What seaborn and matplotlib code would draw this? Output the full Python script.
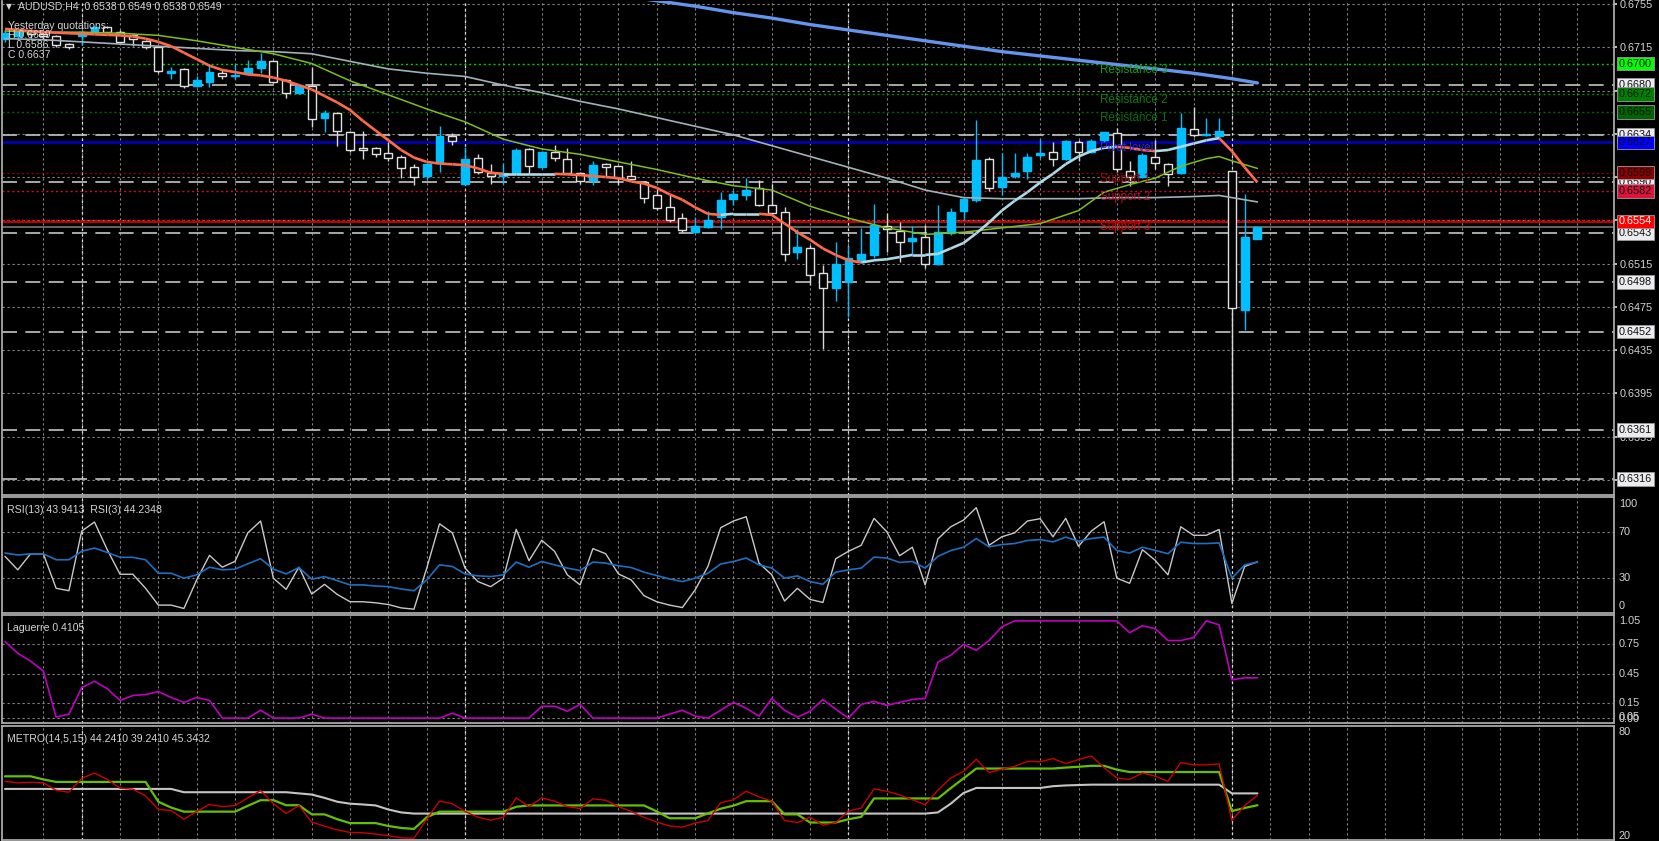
import numpy as np
import matplotlib
matplotlib.use("Agg")
import matplotlib.pyplot as plt
from matplotlib.collections import LineCollection
import seaborn as sns

# AUDUSD H4 bars, oldest first
opens = [0.6723, 0.6725, 0.6730, 0.6727, 0.6725, 0.6718, 0.6725, 0.6729, 0.6734, 0.6729,
         0.6726, 0.6721, 0.6715, 0.6691, 0.6695, 0.6679, 0.6683, 0.6691, 0.6688, 0.6690,
         0.6696, 0.6702, 0.6685, 0.6673, 0.6679, 0.6650, 0.6654, 0.6637, 0.6622, 0.6622,
         0.6617, 0.6614, 0.6604, 0.6596, 0.6608, 0.6633, 0.6589, 0.6613, 0.6599, 0.6596,
         0.6599, 0.6621, 0.6604, 0.6618, 0.6612, 0.6599, 0.6592, 0.6607, 0.6605, 0.6596,
         0.6590, 0.6578, 0.6567, 0.6557, 0.6544, 0.6549, 0.6558, 0.6575, 0.6578, 0.6585,
         0.6569, 0.6563, 0.6526, 0.6529, 0.6506, 0.6492, 0.6498, 0.6518, 0.6523, 0.6550,
         0.6545, 0.6536, 0.6540, 0.6515, 0.6543, 0.6564, 0.6574, 0.6612, 0.6586, 0.6596,
         0.6601, 0.6615, 0.6618, 0.6612, 0.6627, 0.6618, 0.6629, 0.6636, 0.6601, 0.6595,
         0.6614, 0.6607, 0.6599, 0.6639, 0.6634, 0.6633, 0.6601, 0.6472, 0.6538]
highs = [0.6731, 0.6731, 0.6732, 0.6729, 0.6726, 0.6719, 0.6731, 0.6735, 0.6735, 0.6731,
         0.6727, 0.6722, 0.6716, 0.6697, 0.6696, 0.6688, 0.6700, 0.6695, 0.6700, 0.6703,
         0.6710, 0.6703, 0.6686, 0.6681, 0.6697, 0.6657, 0.6655, 0.6638, 0.6638, 0.6623,
         0.6627, 0.6615, 0.6607, 0.6608, 0.6642, 0.6636, 0.6623, 0.6616, 0.6607, 0.6608,
         0.6622, 0.6622, 0.6619, 0.6625, 0.6622, 0.6600, 0.6610, 0.6608, 0.6606, 0.6610,
         0.6591, 0.6584, 0.6578, 0.6562, 0.6558, 0.6564, 0.6581, 0.6583, 0.6594, 0.6592,
         0.6589, 0.6567, 0.6547, 0.6532, 0.6514, 0.6535, 0.6531, 0.6548, 0.6570, 0.6562,
         0.6553, 0.6550, 0.6551, 0.6569, 0.6566, 0.6577, 0.6648, 0.6614, 0.6617, 0.6617,
         0.6617, 0.6630, 0.6627, 0.6629, 0.6629, 0.6630, 0.6637, 0.6640, 0.6610, 0.6617,
         0.6629, 0.6608, 0.6654, 0.6660, 0.6650, 0.6650, 0.6601, 0.6579, 0.6549]
lows = [0.6720, 0.6722, 0.6724, 0.6723, 0.6715, 0.6713, 0.6717, 0.6728, 0.6728, 0.6719,
        0.6716, 0.6713, 0.6691, 0.6686, 0.6677, 0.6678, 0.6678, 0.6686, 0.6686, 0.6689,
        0.6691, 0.6682, 0.6668, 0.6672, 0.6641, 0.6637, 0.6624, 0.6618, 0.6612, 0.6614,
        0.6610, 0.6594, 0.6588, 0.6592, 0.6600, 0.6625, 0.6588, 0.6598, 0.6589, 0.6589,
        0.6598, 0.6598, 0.6603, 0.6610, 0.6598, 0.6589, 0.6588, 0.6596, 0.6588, 0.6592,
        0.6571, 0.6565, 0.6553, 0.6544, 0.6543, 0.6548, 0.6547, 0.6569, 0.6574, 0.6568,
        0.6560, 0.6517, 0.6519, 0.6495, 0.6436, 0.6480, 0.6466, 0.6517, 0.6520, 0.6526,
        0.6516, 0.6523, 0.6511, 0.6514, 0.6541, 0.6556, 0.6572, 0.6582, 0.6578, 0.6594,
        0.6593, 0.6613, 0.6605, 0.6611, 0.6610, 0.6617, 0.6627, 0.6600, 0.6587, 0.6594,
        0.6602, 0.6587, 0.6598, 0.6632, 0.6633, 0.6631, 0.6314, 0.6454, 0.6538]
closes = [0.6728, 0.6729, 0.6727, 0.6725, 0.6717, 0.6715, 0.6729, 0.6734, 0.6729, 0.6720,
          0.6723, 0.6715, 0.6693, 0.6693, 0.6679, 0.6685, 0.6692, 0.6688, 0.6689, 0.6696,
          0.6702, 0.6683, 0.6673, 0.6679, 0.6649, 0.6654, 0.6638, 0.6620, 0.6620, 0.6616,
          0.6613, 0.6603, 0.6595, 0.6607, 0.6633, 0.6628, 0.6612, 0.6600, 0.6596, 0.6599,
          0.6620, 0.6605, 0.6618, 0.6613, 0.6599, 0.6591, 0.6606, 0.6604, 0.6594, 0.6593,
          0.6576, 0.6566, 0.6555, 0.6546, 0.6550, 0.6555, 0.6574, 0.6579, 0.6583, 0.6569,
          0.6562, 0.6524, 0.6530, 0.6504, 0.6492, 0.6515, 0.6520, 0.6524, 0.6551, 0.6547,
          0.6535, 0.6539, 0.6515, 0.6544, 0.6563, 0.6575, 0.6611, 0.6585, 0.6595, 0.6599,
          0.6614, 0.6617, 0.6612, 0.6628, 0.6618, 0.6628, 0.6637, 0.6602, 0.6595, 0.6615,
          0.6608, 0.6598, 0.6640, 0.6634, 0.6635, 0.6638, 0.6474, 0.6540, 0.6549]

# moving averages
fast_ma = [0.6732, 0.6731, 0.6730, 0.6729, 0.67285, 0.6728, 0.67275, 0.6727, 0.67265, 0.6726,
           0.6725, 0.6723, 0.6720, 0.6716, 0.6710, 0.6704, 0.6698, 0.6694, 0.6692, 0.6690,
           0.6689, 0.6687, 0.6684, 0.6680, 0.6676, 0.6670, 0.6664, 0.6657, 0.6647, 0.6638,
           0.6629, 0.6620, 0.6613, 0.6609, 0.66075, 0.66068, 0.6606, 0.6603, 0.6599, 0.6598,
           0.6598, 0.6598, 0.6598, 0.6598, 0.65975, 0.65968, 0.6596, 0.6595, 0.6594, 0.6591,
           0.6589, 0.6585, 0.6579, 0.6574, 0.6567, 0.6561, 0.6560, 0.6561, 0.6561, 0.6561,
           0.6560, 0.6552, 0.6544, 0.6537, 0.6529, 0.6523, 0.6518, 0.6516, 0.6518, 0.6519,
           0.6521, 0.6523, 0.6523, 0.6524, 0.6529, 0.6534, 0.6543, 0.6553, 0.6564, 0.6573,
           0.6581, 0.6590, 0.6598, 0.6607, 0.6614, 0.6619, 0.6622, 0.6623, 0.6622, 0.6620,
           0.6619, 0.6620, 0.6623, 0.6626, 0.6629, 0.6631, 0.6619, 0.6604, 0.6590]
mid_bars = [0, 3, 6, 9, 12, 15, 18, 21, 24, 27, 30, 33, 36, 39, 42, 45, 48, 51, 54, 57,
            60, 63, 66, 69, 72, 75, 78, 81, 84, 86, 88, 90, 92, 94, 95, 96, 98]
mid_ma = [0.6730, 0.6729, 0.6729, 0.6728, 0.6726, 0.6721, 0.6715, 0.6709, 0.6700, 0.6684,
          0.6671, 0.6658, 0.6646, 0.6630, 0.6621, 0.6616, 0.6609, 0.6602, 0.6594, 0.6587,
          0.6583, 0.6568, 0.6557, 0.6548, 0.6542, 0.6544, 0.6548, 0.6552, 0.6564, 0.6581,
          0.6588, 0.6594, 0.6605, 0.6612, 0.6614, 0.6610, 0.6603]
slow_bars = [0, 3, 6, 9, 12, 15, 18, 21, 24, 27, 30, 33, 36, 39, 42, 45, 48, 51, 54, 57,
             60, 63, 66, 69, 72, 75, 78, 81, 84, 87, 90, 93, 95, 96, 98]
slow_ma = [0.6723, 0.6722, 0.6720, 0.6718, 0.6716, 0.6714, 0.6712, 0.6711, 0.6709, 0.6702,
           0.6695, 0.6691, 0.6688, 0.6680, 0.6673, 0.6665, 0.6658, 0.6650, 0.6642, 0.6634,
           0.6624, 0.6614, 0.6604, 0.6594, 0.6583, 0.6576, 0.6575, 0.6575, 0.6575, 0.6576,
           0.6576, 0.6577, 0.6578, 0.6576, 0.6572]
long_bars = [45, 48, 51, 54, 57, 60, 63, 66, 69, 72, 75, 78, 81, 84, 87, 90, 93, 96, 98]
long_ma = [0.6769, 0.6763, 0.6758, 0.6753, 0.6747, 0.6742, 0.6736, 0.6731, 0.6726, 0.6721,
           0.6716, 0.6711, 0.6707, 0.6703, 0.6699, 0.6695, 0.6691, 0.6686, 0.6682]

# indicator windows
rsi13 = [51.7, 50.0, 51.0, 51.0, 45.9, 45.9, 53.2, 56.0, 52.2, 48.0,
         48.0, 45.9, 34.3, 34.3, 30.0, 32.9, 39.5, 37.2, 37.8, 42.4,
         46.8, 37.8, 33.7, 39.2, 29.1, 31.4, 27.9, 24.2, 24.2, 23.3,
         22.7, 20.7, 19.2, 28.5, 41.5, 40.1, 33.7, 32.0, 31.4, 32.9,
         43.9, 39.5, 44.4, 41.5, 38.7, 36.6, 43.9, 43.0, 40.7, 39.2,
         35.2, 32.3, 29.4, 27.1, 30.0, 34.3, 42.2, 44.4, 47.4, 41.5,
         38.7, 30.0, 32.0, 27.1, 24.8, 35.2, 37.2, 38.7, 48.2, 47.4,
         43.6, 44.4, 38.7, 48.8, 53.8, 56.7, 64.2, 57.0, 59.0, 59.9,
         62.5, 63.3, 61.3, 65.4, 61.9, 64.2, 65.4, 53.8, 51.7, 56.7,
         54.0, 51.1, 61.0, 59.9, 59.9, 60.4, 30.0, 41.5, 43.9]
rsi3 = [48.8, 37.2, 51.0, 51.0, 21.3, 19.2, 70.6, 78.4, 54.6, 33.4,
        33.4, 21.3, 6.8, 6.8, 3.9, 28.5, 49.7, 39.5, 44.5, 69.1,
        79.3, 30.0, 20.4, 39.5, 16.3, 24.7, 16.0, 9.7, 9.7, 8.8,
        7.3, 4.4, 3.3, 38.7, 76.9, 69.1, 38.7, 27.1, 22.7, 30.0,
        72.1, 45.1, 62.7, 53.2, 32.9, 24.2, 55.5, 51.1, 33.7, 28.5,
        14.9, 9.7, 6.8, 4.7, 19.9, 40.1, 73.5, 79.3, 83.0, 43.0,
        32.9, 10.3, 21.3, 11.7, 9.1, 46.8, 53.2, 58.4, 81.6, 70.0,
        49.4, 56.7, 24.2, 63.9, 74.3, 80.1, 90.8, 58.4, 65.7, 69.1,
        79.3, 81.3, 65.7, 81.6, 57.5, 70.6, 78.7, 30.0, 25.6, 54.6,
        45.4, 32.9, 74.3, 67.0, 67.0, 72.0, 8.2, 40.1, 44.2]
laguerre = [0.78, 0.66, 0.58, 0.48, 0.01, 0.04, 0.31, 0.375, 0.30, 0.18,
            0.23, 0.24, 0.27, 0.21, 0.16, 0.21, 0.18, 0.0, 0.0, 0.0,
            0.08, 0.0, 0.0, 0.0, 0.04, 0.0, 0.0, 0.0, 0.0, 0.0,
            0.0, 0.0, 0.0, 0.0, 0.0, 0.05, 0.0, 0.0, 0.0, 0.0,
            0.0, 0.0, 0.12, 0.12, 0.07, 0.14, 0.0, 0.0, 0.0, 0.0,
            0.0, 0.0, 0.04, 0.08, 0.02, 0.0, 0.08, 0.16, 0.10, 0.02,
            0.20, 0.08, 0.01, 0.07, 0.19, 0.09, 0.0, 0.14, 0.17, 0.13,
            0.16, 0.19, 0.20, 0.57, 0.64, 0.75, 0.69, 0.79, 0.93, 0.99,
            0.99, 0.99, 0.99, 0.99, 0.99, 0.99, 0.99, 0.99, 0.87, 0.94,
            0.91, 0.79, 0.79, 0.82, 0.99, 0.95, 0.39, 0.41, 0.41]
metro_fast = [51.5, 50.7, 51.0, 50.8, 46.9, 45.9, 53.0, 55.8, 52.5, 48.0,
              47.5, 44.0, 37.0, 36.5, 32.0, 36.0, 39.6, 38.5, 39.0, 43.0,
              46.8, 40.0, 35.0, 39.0, 30.5, 28.5, 26.5, 25.2, 25.0, 24.4,
              23.5, 22.4, 22.2, 32.0, 41.3, 40.0, 36.0, 33.0, 31.5, 33.0,
              43.0, 38.4, 43.0, 41.3, 38.5, 37.5, 42.5, 41.8, 38.5, 36.0,
              33.0, 30.5, 28.5, 27.9, 30.0, 31.3, 40.5, 42.0, 46.4, 43.5,
              41.3, 31.3, 30.3, 33.0, 28.9, 30.3, 36.2, 37.8, 47.6, 46.4,
              44.5, 42.0, 39.5, 47.0, 53.2, 56.6, 62.9, 56.0, 57.8, 59.2,
              61.8, 61.6, 63.2, 60.6, 62.7, 64.6, 58.5, 53.2, 52.5, 55.8,
              54.2, 51.5, 61.2, 60.0, 60.0, 60.5, 31.3, 39.1, 44.2]
metro_slow = [54.1, 54.1, 54.1, 52.5, 51.2, 51.2, 51.2, 51.2, 51.2, 51.2,
              51.2, 51.2, 41.0, 38.0, 35.9, 35.9, 35.9, 35.9, 35.9, 38.9,
              41.8, 41.8, 39.2, 39.2, 34.5, 34.5, 32.0, 30.0, 30.0, 30.0,
              28.5, 27.5, 27.0, 33.0, 35.9, 35.9, 35.9, 35.9, 35.9, 35.9,
              38.4, 39.1, 39.1, 39.1, 39.1, 39.1, 39.1, 39.1, 39.1, 39.1,
              39.1, 36.0, 32.5, 32.5, 32.5, 35.0, 37.4, 39.0, 41.3, 41.3,
              41.3, 34.5, 34.5, 30.3, 30.3, 30.3, 32.0, 33.2, 42.7, 42.7,
              42.7, 42.7, 42.7, 42.7, 48.0, 53.0, 58.1, 58.1, 58.1, 58.1,
              58.1, 58.1, 58.1, 58.6, 59.0, 59.5, 59.5, 57.5, 56.3, 56.3,
              56.3, 56.3, 56.3, 56.3, 56.3, 56.3, 36.2, 37.8, 39.2]
metro_step = [47.6, 47.6, 47.6, 47.6, 47.6, 47.6, 47.6, 47.6, 47.6, 47.6,
              47.6, 47.6, 47.6, 47.6, 45.9, 45.9, 45.9, 45.9, 45.9, 45.9,
              45.9, 45.9, 45.9, 45.3, 44.7, 43.0, 41.0, 40.0, 39.6, 39.1,
              37.0, 35.5, 34.9, 34.9, 34.9, 34.9, 34.9, 34.9, 34.9, 34.9,
              34.9, 34.9, 34.9, 34.9, 34.9, 34.9, 34.9, 34.9, 34.9, 34.9,
              34.9, 34.9, 34.9, 34.9, 34.9, 34.9, 34.9, 34.9, 34.9, 34.9,
              34.9, 34.9, 34.9, 34.9, 34.9, 34.9, 34.9, 34.9, 34.9, 34.9,
              34.9, 34.9, 34.9, 35.5, 40.0, 45.5, 48.1, 48.1, 48.1, 48.1,
              48.1, 48.1, 49.0, 49.4, 49.6, 49.8, 49.8, 49.8, 49.8, 49.8,
              49.8, 49.8, 49.8, 49.8, 49.8, 49.8, 45.3, 45.3, 45.3]

price_grid = [0.6755, 0.6715, 0.6675, 0.6635, 0.6595, 0.6555, 0.6515, 0.6475, 0.6435, 0.6395, 0.6355, 0.6315]
dash_levels = [0.6680, 0.6634, 0.6590, 0.6543, 0.6498, 0.6452, 0.6361, 0.6316]
pivot_names = ["Resistance 3", "Resistance 2", "Resistance 1", "Pivot level", "Support 1", "Support 2", "Support 3"]
pivot_levels = [0.6700, 0.6672, 0.6655, 0.6627, 0.6599, 0.6582, 0.6554]
ask_price, bid_price = 0.6553, 0.6549

pivot_line_colors = ["#00c800", "#008a00", "#006400", "#0000b4", "#8b0000", "#c8102e", "#e00000"]
pivot_text_colors = ["#10a010", "#0e7a0e", "#0e6a0e", "#2828ee", "#9a0a0a", "#b8102c", "#dc0000"]
pivot_box_colors = ["#00ff00", "#008000", "#006400", "#0000ff", "#8b0000", "#dc143c", "#ff0000"]

bars = np.arange(len(opens))

sns.set_theme(style="dark", rc={"axes.facecolor": "black", "figure.facecolor": "black"})
plt.rcParams["font.family"] = ["Liberation Sans", "DejaVu Sans"]

W, H = 1659, 841
fig = plt.figure(figsize=(W / 100, H / 100), dpi=100, facecolor="black")

def rect(x0, y0, x1, y1):
    return [x0 / W, 1 - y1 / H, (x1 - x0) / W, (y1 - y0) / H]

ax = fig.add_axes(rect(2, 1, 1614, 495))
ax_rsi = fig.add_axes(rect(2, 497, 1614, 613))
ax_lag = fig.add_axes(rect(2, 615, 1614, 723))
ax_met = fig.add_axes(rect(2, 726, 1614, 840))
panels = [ax, ax_rsi, ax_lag, ax_met]

GRID = "#878787"
TXT = "#d4d4d4"
FS = 7.8
LFS = 7.6
dotted = (0, (2, 2.5))

for a in panels:
    a.set_facecolor("black")
    a.set_xlim(-0.235, 125.9)
    a.set_xticks(np.arange(3, 126, 3))
    a.grid(True, axis="both", color=GRID, linestyle=dotted, linewidth=0.8)
    a.tick_params(axis="x", labelbottom=False, length=0)
    a.tick_params(axis="y", labelleft=False, labelright=False, left=False, right=False, length=0)
    for s in a.spines.values():
        s.set_color("#a8a8a8")
        s.set_linewidth(1.3)
    for b in [6, 36, 66, 96]:
        a.axvline(b, color="#dcdcdc", linestyle=dotted, linewidth=0.9, zorder=0.6)
ax.spines["top"].set_visible(False)

# ---- price window ----
ax.set_ylim(0.63010, 0.67578)
ax.set_yticks(price_grid)
ax.yaxis.tick_right()
ax.tick_params(axis="y", labelright=True, right=True, length=2, pad=2, labelsize=FS, colors=TXT)
ax.set_yticklabels([f"{p:.4f}" for p in price_grid])

for lv in dash_levels:
    ax.axhline(lv, color="#c4c4c4", linestyle=(0, (9, 5)), linewidth=1.2, zorder=1)
for name, lv, lc, tc in zip(pivot_names, pivot_levels, pivot_line_colors, pivot_text_colors):
    if name == "Pivot level":
        ax.axhline(lv, color=lc, linewidth=2, zorder=1)
    else:
        ax.axhline(lv + (0.0001 if name == "Support 3" else 0), color=lc, linestyle=(0, (1.5, 2)), linewidth=1, zorder=1)
    ax.text(85.7, lv, name, color=tc, fontsize=8.4, va="top", ha="left", zorder=6)
ax.axhline(ask_price, color="#e00000", linewidth=1.2, zorder=1)
ax.axhline(bid_price, color="#767676", linewidth=1.2, zorder=1)

# candles
up = [c >= o for o, c in zip(opens, closes)]
CYAN = "#00bfff"
wick_col = [CYAN if u else "#d8d8d8" for u in up]
ax.vlines(bars, lows, highs, colors=wick_col, linewidth=1, zorder=3)
body_low = [min(o, c) for o, c in zip(opens, closes)]
body_h = [max(abs(c - o), 0.00003) for o, c in zip(opens, closes)]
ax.bar(bars, body_h, bottom=body_low, width=0.62,
       color=[CYAN if u else "black" for u in up],
       edgecolor=[CYAN if u else "#e0e0e0" for u in up], linewidth=1, zorder=4)

# moving averages
sns.lineplot(x=long_bars, y=long_ma, ax=ax, color="#6495ed", linewidth=2.4, zorder=5)
sns.lineplot(x=slow_bars, y=slow_ma, ax=ax, color="#9fb2ba", linewidth=1.2, zorder=5)
sns.lineplot(x=mid_bars, y=mid_ma, ax=ax, color="#7cbf1c", linewidth=1.1, zorder=5)
pts = np.column_stack([bars, fast_ma])
segs = np.stack([pts[:-1], pts[1:]], axis=1)
seg_cols = ["#add8e6" if b >= a else "#ff6a4a" for a, b in zip(fast_ma[:-1], fast_ma[1:])]
ax.add_collection(LineCollection(segs, colors=seg_cols, linewidths=1.9, zorder=5.5))

# right-hand price tags
def tag(a, price, fc, tc="#101010"):
    a.text(1.0031, price, f"{price:.4f}", transform=a.get_yaxis_transform(), fontsize=FS,
           color=tc, va="center", ha="left", zorder=10,
           bbox=dict(boxstyle="square,pad=0.16", fc=fc, ec="#9a9a9a", lw=0.6))

for lv in dash_levels:
    tag(ax, lv, "#ececf0")
for lv, bc in zip(pivot_levels, pivot_box_colors):
    tag(ax, lv, bc, "white" if bc == "#ff0000" else "#101010")

# header
fig.text(6 / W, 1 - 6.5 / H, "▼", color=TXT, fontsize=5.5, va="center", family=["DejaVu Sans"])
fig.text(18 / W, 1 - 6.5 / H, "AUDUSD,H4  0.6538 0.6549 0.6538 0.6549", color=TXT, fontsize=LFS, va="center")
for txt, yy in [("Yesterday quotations:", 26), ("H 0.6659", 35.5), ("L 0.6586", 45), ("C 0.6637", 54.5)]:
    fig.text(7.5 / W, 1 - yy / H, txt, color=TXT, fontsize=LFS, va="center")

# ---- RSI window ----
ax_rsi.set_ylim(0, 100)
ax_rsi.set_yticks([70, 30])
sns.lineplot(x=bars, y=rsi3, ax=ax_rsi, color="#c8c8c8", linewidth=1.0)
sns.lineplot(x=bars, y=rsi13, ax=ax_rsi, color="#1f6fc0", linewidth=1.2)
for lab, yv in [("100", 94), ("70", 70), ("30", 30), ("0", 6)]:
    ax_rsi.text(1.0031, yv, lab, transform=ax_rsi.get_yaxis_transform(), fontsize=FS, color=TXT, va="center")
ax_rsi.text(0.003, 0.93, "RSI(13) 43.9413  RSI(3) 44.2348", transform=ax_rsi.transAxes,
            fontsize=LFS, color=TXT, va="top")

# ---- Laguerre window ----
ax_lag.set_ylim(-0.05, 1.05)
ax_lag.set_yticks([0.75, 0.45, 0.15, 0.0])
sns.lineplot(x=bars, y=laguerre, ax=ax_lag, color="#c000c0", linewidth=1.2)
for lab, yv in [("1.05", 0.99), ("0.75", 0.75), ("0.45", 0.45), ("0.15", 0.15), ("0.05", 0.012), ("0.00", -0.006)]:
    ax_lag.text(1.0031, yv, lab, transform=ax_lag.get_yaxis_transform(), fontsize=FS, color=TXT, va="center")
ax_lag.text(0.003, 0.93, "Laguerre 0.4105", transform=ax_lag.transAxes, fontsize=LFS, color=TXT, va="top")

# ---- METRO window ----
ax_met.set_ylim(21.3, 80)
ax_met.set_yticks([])
ax_met.grid(True, axis="x", color=GRID, linestyle=dotted, linewidth=0.8)
sns.lineplot(x=bars, y=metro_step, ax=ax_met, color="#c4c4c4", linewidth=1.5)
sns.lineplot(x=bars, y=metro_slow, ax=ax_met, color="#66c000", linewidth=1.6)
sns.lineplot(x=bars, y=metro_fast, ax=ax_met, color="#cc0000", linewidth=1.0)
for lab, yv in [("80", 76.9), ("20", 23.5)]:
    ax_met.text(1.0031, yv, lab, transform=ax_met.get_yaxis_transform(), fontsize=FS, color=TXT, va="center")
ax_met.text(0.003, 0.93, "METRO(14,5,15) 44.2410 39.2410 45.3432", transform=ax_met.transAxes,
            fontsize=LFS, color=TXT, va="top")

for a in panels:
    a.set_xlabel("")
    a.set_ylabel("")

fig.savefig("out.png", dpi=100, facecolor="black")
